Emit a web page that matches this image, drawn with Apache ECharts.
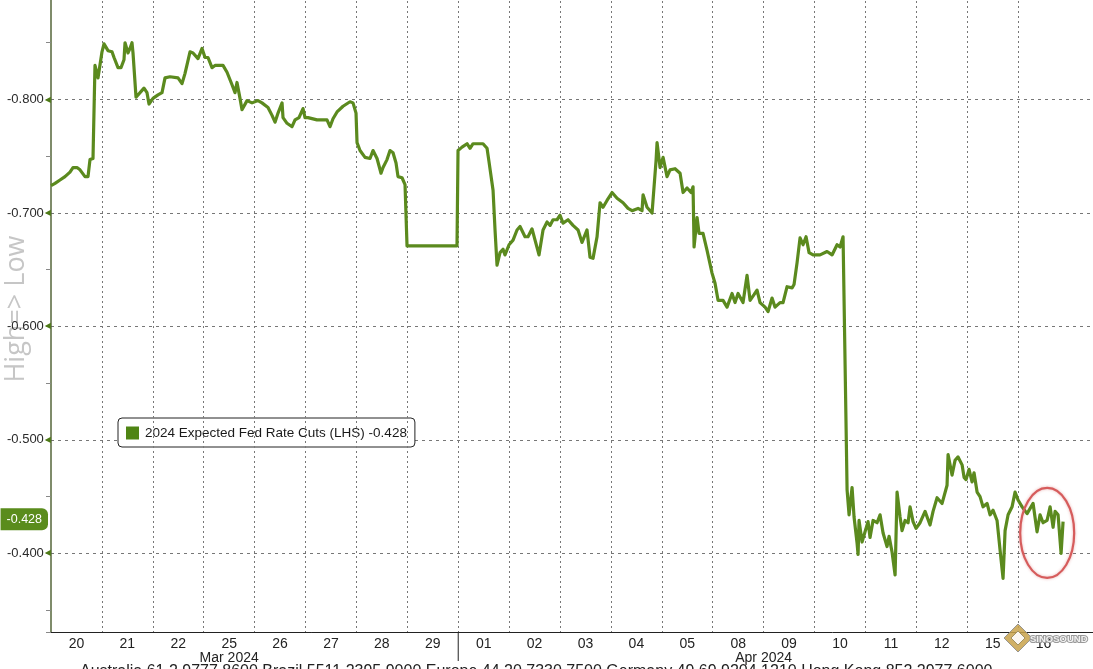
<!DOCTYPE html>
<html><head><meta charset="utf-8">
<script src="https://cdn.jsdelivr.net/npm/echarts/dist/echarts.min.js"></script>
<style>html,body{margin:0;padding:0;background:#fff;overflow:hidden}#c{width:1093px;height:669px}</style>
</head><body><div id="c"></div>
<script>
// ---- data ----
const dayLabels = ['20','21','22','25','26','27','28','29','01','02','03','04','05','08','09','10','11','12','15','16'];
const monthLabelPos = [3.5, 14];
const monthLabels = ['Mar 2024', 'Apr 2024'];
const dayBoundaries = [1,2,3,4,5,6,7,8,9,10,11,12,13,14,15,16,17,18,19];
const monthBoundary = 8;
const seriesName = '2024 Expected Fed Rate Cuts (LHS)';
const lastValue = -0.428;
const footerText = 'Australia 61 2 9777 8600 Brazil 5511 2395 9000 Europe 44 20 7330 7500 Germany 49 69 9204 1210 Hong Kong 852 2977 6000';

// day position (0 = start of 20 Mar, 1 unit = 1 trading day)
const dayPos = [0,0.079,0.177,0.275,0.373,0.432,0.511,0.570,0.609,0.668,0.727,0.766,0.825,0.864,0.923,1.002,1.041,1.120,1.198,1.238,1.316,1.375,1.434,1.454,1.513,1.552,1.591,1.611,1.670,1.709,1.788,1.827,1.886,1.925,2.004,2.102,2.181,2.240,2.338,2.495,2.574,2.633,2.731,2.790,2.888,2.967,3.026,3.084,3.163,3.222,3.379,3.458,3.556,3.615,3.654,3.713,3.752,3.851,3.949,4.067,
4.145,4.263,4.342,4.401,4.460,4.539,4.558,4.637,4.735,4.794,4.872,4.951,4.990,5.049,5.226,5.422,5.481,5.540,5.619,5.737,5.874,5.933,5.992,6.012,6.071,6.169,6.267,6.326,6.405,6.483,6.523,6.601,6.660,6.719,6.778,6.817,6.896,6.955,6.994,7.976,
7.996,8.075,8.173,8.232,8.291,8.369,8.487,8.566,8.605,8.684,8.723,8.762,8.821,8.880,8.919,8.998,9.077,9.155,9.214,9.312,9.371,9.450,9.509,9.587,9.666,9.745,9.804,9.862,9.941,10.000,10.059,10.157,10.255,10.354,10.432,10.530,10.589,10.648,10.727,10.786,10.845,10.923,11.022,11.120,11.238,11.336,11.415,11.532,11.611,11.631,11.709,11.808,11.847,11.886,11.906,11.965,12.024,12.102,12.161,12.259,12.358,12.417,12.495,12.574,12.613,12.633,12.692,12.731,12.809,12.888,12.986,13.045,13.104,13.202,13.281,13.379,13.438,13.497,13.595,13.674,13.733,13.811,13.870,13.929,14.028,14.087,14.165,14.224,14.322,14.381,14.460,14.558,14.597,14.656,14.715,14.774,14.833,14.892,14.971,15.108,15.246,15.344,15.442,15.501,15.560,
15.639,15.678,15.737,15.776,15.835,15.855,15.874,15.933,15.992,16.051,16.090,16.149,16.228,16.287,16.346,16.424,16.464,16.523,16.582,16.621,16.680,16.719,16.778,16.837,16.876,16.935,16.994,17.073,17.171,17.269,17.328,17.407,17.505,17.603,17.623,17.701,17.760,17.819,17.898,17.937,17.976,18.035,18.094,18.133,18.193,18.251,18.310,18.389,18.448,18.507,18.585,18.644,18.703,18.743,18.802,18.880,18.939,18.998,19.077,19.175,19.293,19.371,19.430,19.489,19.568,19.627,19.686,19.725,19.784,19.843,19.882];

const cuts = [-0.724,-0.726,-0.729,-0.732,-0.736,-0.740,-0.740,-0.738,-0.739,-0.732,-0.732,-0.747,-0.748,-0.830,-0.819,-0.842,-0.849,-0.843,-0.842,-0.837,-0.828,-0.828,-0.835,-0.850,-0.841,-0.845,-0.850,-0.841,-0.802,-0.801,-0.808,-0.810,-0.806,-0.796,-0.801,-0.804,-0.806,-0.819,-0.820,-0.819,-0.814,-0.823,-0.842,-0.841,-0.836,-0.845,-0.837,-0.837,-0.828,-0.830,-0.830,-0.824,-0.813,-0.806,-0.815,-0.801,-0.791,-0.799,-0.797,-0.799,
-0.797,-0.793,-0.786,-0.780,-0.788,-0.797,-0.784,-0.779,-0.776,-0.782,-0.784,-0.792,-0.784,-0.784,-0.782,-0.782,-0.776,-0.783,-0.789,-0.794,-0.798,-0.797,-0.788,-0.762,-0.755,-0.749,-0.748,-0.755,-0.748,-0.735,-0.740,-0.747,-0.755,-0.753,-0.744,-0.732,-0.731,-0.725,-0.671,-0.671,
-0.755,-0.758,-0.761,-0.757,-0.761,-0.761,-0.761,-0.757,-0.745,-0.720,-0.685,-0.654,-0.665,-0.668,-0.663,-0.672,-0.676,-0.685,-0.688,-0.679,-0.679,-0.686,-0.676,-0.663,-0.685,-0.692,-0.689,-0.694,-0.694,-0.698,-0.691,-0.694,-0.689,-0.685,-0.674,-0.685,-0.661,-0.660,-0.679,-0.709,-0.705,-0.711,-0.718,-0.713,-0.709,-0.704,-0.702,-0.704,-0.702,-0.716,-0.705,-0.700,-0.700,-0.746,-0.762,-0.740,-0.749,-0.732,-0.738,-0.739,-0.735,-0.718,-0.722,-0.718,-0.723,-0.670,-0.696,-0.682,-0.682,-0.667,-0.647,-0.638,-0.623,-0.623,-0.617,-0.629,-0.621,-0.629,-0.621,-0.645,-0.623,-0.628,-0.632,-0.621,-0.617,-0.613,-0.625,-0.617,-0.621,-0.621,-0.635,-0.634,-0.637,-0.656,-0.678,-0.672,-0.679,-0.665,-0.663,-0.663,-0.666,-0.663,-0.672,-0.670,-0.679,
-0.456,-0.434,-0.458,-0.432,-0.409,-0.399,-0.429,-0.410,-0.419,-0.428,-0.414,-0.429,-0.427,-0.434,-0.418,-0.406,-0.415,-0.401,-0.381,-0.454,-0.432,-0.420,-0.429,-0.427,-0.441,-0.428,-0.422,-0.427,-0.437,-0.425,-0.437,-0.449,-0.444,-0.460,-0.487,-0.469,-0.482,-0.485,-0.478,-0.467,-0.465,-0.474,-0.463,-0.471,-0.454,-0.450,-0.441,-0.444,-0.434,-0.438,-0.429,-0.403,-0.378,-0.420,-0.434,-0.441,-0.454,-0.447,-0.441,-0.435,-0.444,-0.419,-0.434,-0.427,-0.429,-0.441,-0.423,-0.437,-0.434,-0.400,-0.428];

// axis ranges
const yMin = -0.9, yMax = -0.3307, xMax = 20.47;

// ---- chart ----
const lineColor = '#5b8a1e';
const FONT = '"Liberation Sans", Arial, sans-serif';
const chart = echarts.init(document.getElementById('c'), null, {renderer: 'canvas'});
const isMajor = v => Math.abs(v * 10 - Math.round(v * 10)) < 1e-6;
const near = (a, b) => Math.abs(a - b) < 1e-6;

const option = {
  animation: false,
  backgroundColor: '#ffffff',
  grid: {left: 51, right: 0, top: -14, bottom: 37, containLabel: false, outerBoundsMode: 'none'},
  legend: {
    data: [seriesName],
    left: 118, top: 418,
    orient: 'horizontal',
    icon: 'rect', itemWidth: 13, itemHeight: 13, itemGap: 4,
    padding: [8, 8, 7, 8],
    backgroundColor: '#ffffff',
    borderColor: '#222', borderWidth: 1, borderRadius: 4,
    formatter: n => n + ' ' + lastValue.toFixed(3),
    textStyle: {fontFamily: FONT, fontSize: 13.5, color: '#1a1a1a', padding: [0, 0, 0, 1]},
    selectedMode: false
  },
  xAxis: [
    { // day labels + axis line
      type: 'value', min: 0, max: xMax, interval: 0.5,
      axisLine: {show: true, lineStyle: {color: '#222', width: 1}},
      axisTick: {show: false}, splitLine: {show: false},
      axisLabel: {
        show: true, margin: 5, showMinLabel: true, showMaxLabel: true, hideOverlap: false,
        fontFamily: FONT, fontSize: 14, color: '#222',
        formatter: v => { const i = Math.floor(v); return (near(v - i, 0.5) && i < dayLabels.length) ? dayLabels[i] : ''; }
      }
    },
    { // month labels
      type: 'value', min: 0, max: xMax, interval: 0.5, position: 'bottom',
      axisLine: {show: false}, axisTick: {show: false}, splitLine: {show: false},
      axisLabel: {
        show: true, margin: 19, hideOverlap: false,
        fontFamily: FONT, fontSize: 14, color: '#222',
        formatter: v => { for (let k = 0; k < monthLabelPos.length; k++) if (near(v, monthLabelPos[k])) return monthLabels[k]; return ''; }
      }
    }
  ],
  yAxis: [
    {
      type: 'value', inverse: true, min: yMin, max: yMax, interval: 0.05,
      axisLine: {show: true, lineStyle: {color: '#55663a', width: 1.5}},
      axisTick: {show: true, length: 5, lineStyle: {color: '#888'}},
      splitLine: {show: false},
      name: 'High=> Low', nameLocation: 'middle', nameRotate: 90, nameGap: 21, nameMoveOverlap: false,
      nameTextStyle: {color: '#c6c6c6', fontSize: 27, fontFamily: '"Open Sans", sans-serif'},
      axisLabel: {
        show: true, margin: 0, hideOverlap: false,
        formatter: v => isMajor(v) && v > yMin + 0.01 ? '{t|' + v.toFixed(3) + '}{a|◀}' : '',
        rich: {
          t: {fontFamily: FONT, fontSize: 13, color: '#2a2a2a'},
          a: {fontFamily: '"DejaVu Sans", sans-serif', fontSize: 8, color: '#4d7a16', padding: [0, 0, 0, 1]}
        }
      }
    },
    { // horizontal grid lines
      type: 'value', inverse: true, min: yMin, max: yMax, interval: 0.1, position: 'left',
      axisLine: {show: false}, axisTick: {show: false}, axisLabel: {show: false},
      splitLine: {show: true, lineStyle: {color: '#777', width: 1, type: [3, 4]}}
    }
  ],
  series: [
    { // vertical day separators + last value tag
      type: 'line', name: 'grid', data: [], xAxisIndex: 0, yAxisIndex: 0, silent: true,
      markLine: {
        silent: true, symbol: ['none', 'none'], animation: false,
        data: dayBoundaries.map(d => ({xAxis: d, lineStyle: {color: '#777', width: 1, type: [2, 3]}, label: {show: false}}))
          .concat([{yAxis: lastValue, lineStyle: {color: 'rgba(0,0,0,0)', width: 0}, label: {
            show: true, position: 'start', distance: 3, formatter: lastValue.toFixed(3), opacity: 1,
            backgroundColor: '#5a8c1c', color: '#ffffff', padding: [5, 6, 4, 6],
            fontFamily: FONT, fontSize: 12.5, borderRadius: [0, 6, 6, 0]
          }}])
      }
    },
    {
      type: 'line', name: seriesName, xAxisIndex: 0, yAxisIndex: 0,
      data: dayPos.map((t, i) => [t, cuts[i]]),
      showSymbol: false, symbol: 'none', smooth: false,
      lineStyle: {color: lineColor, width: 3.2, join: 'round'},
      itemStyle: {color: '#4f8514'}, z: 5
    }
  ]
};
chart.setOption(option);

const px = (t, v) => chart.convertToPixel({xAxisIndex: 0, yAxisIndex: 0}, [t, v]);
const sepTop = px(monthBoundary, yMax);
const ring = px(19.57, -0.418);
chart.setOption({
  graphic: [
    {type: 'line', silent: true, shape: {x1: sepTop[0], y1: sepTop[1], x2: sepTop[0], y2: sepTop[1] + 29}, style: {stroke: '#222', lineWidth: 1}},
    {type: 'ellipse', silent: true, z: 20, shape: {cx: ring[0], cy: ring[1], rx: 27, ry: 45},
      style: {fill: 'none', stroke: '#d65c5c', lineWidth: 2.2, shadowColor: 'rgba(200,60,60,0.4)', shadowBlur: 3}},
    {type: 'text', silent: true, left: 80, top: 664, style: {text: footerText, font: '16px "Liberation Sans", Arial, sans-serif', fill: '#222'}},
    {type: 'polygon', silent: true, z: 30, shape: {points: [[1018, 624], [1032, 638], [1018, 652], [1004, 638]]},
      style: {fill: '#c8a24a', stroke: '#8a8a8a', lineWidth: 1, opacity: 0.85}},
    {type: 'polygon', silent: true, z: 31, shape: {points: [[1018, 631], [1025, 638], [1018, 645], [1011, 638]]},
      style: {fill: '#ffffff', stroke: '#9a8a5a', lineWidth: 1, opacity: 0.9}},
    {type: 'text', silent: true, z: 30, left: 1029, top: 633, style: {text: 'SINOSOUND', font: 'bold 9.5px "Liberation Sans", sans-serif', fill: '#f2f2f2', stroke: '#9a9a9a', lineWidth: 2}}
  ]
});
</script>
</body></html>
